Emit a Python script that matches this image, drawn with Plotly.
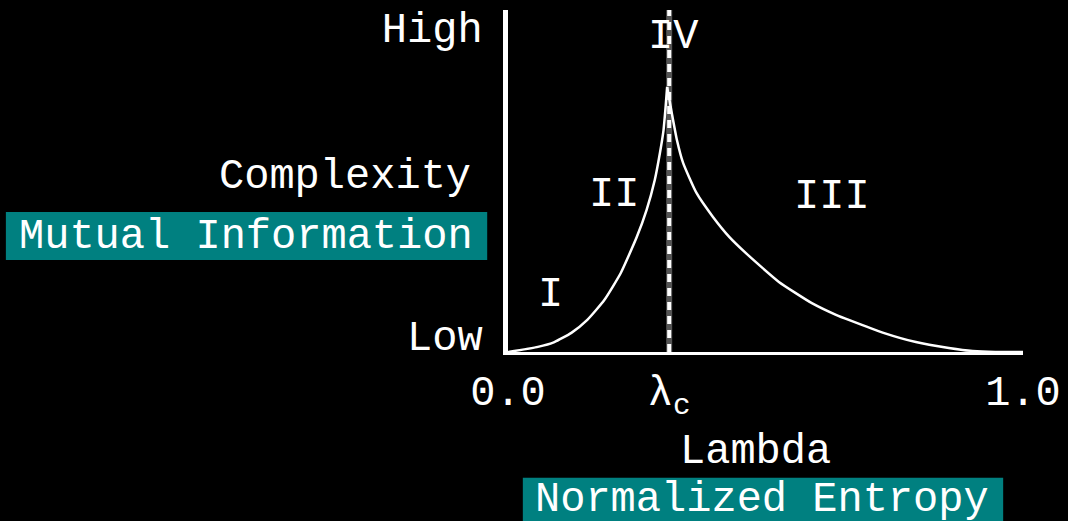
import plotly.graph_objects as go

# ---- data ----
left_x = [0.0, 0.058, 0.090, 0.123, 0.154, 0.187, 0.219, 0.250, 0.269, 0.285, 0.295, 0.302, 0.306, 0.309]
left_y = [0.0, 0.015, 0.029, 0.056, 0.094, 0.152, 0.231, 0.336, 0.415, 0.503, 0.582, 0.649, 0.716, 0.775]
right_x = [0.309, 0.318, 0.328, 0.340, 0.366, 0.398, 0.430, 0.462, 0.494, 0.526, 0.558, 0.590, 0.638,
           0.663, 0.729, 0.792, 0.856, 0.902, 0.946, 1.0]
right_y = [0.775, 0.699, 0.620, 0.553, 0.465, 0.395, 0.336, 0.289, 0.246, 0.205, 0.173, 0.143, 0.108,
           0.093, 0.056, 0.029, 0.012, 0.003, 0.0, 0.0]
lambda_c = 0.313

x_tick_vals = [0.0, lambda_c, 1.0]
x_tick_text = ["0.0", "λ<sub>c</sub>", "1.0"]
y_tick_vals = [0.05, 0.95]
y_tick_text = ["Low", "High"]

region_labels = ["I", "II", "III", "IV"]
region_x = [0.083, 0.206, 0.629, 0.321]
region_y = [0.167, 0.459, 0.453, 0.921]

FONT = "Courier New, Liberation Mono, monospace"
FS = 42
TEAL = "#008080"

fig = go.Figure()

# dashed critical line: dark edge + white dashes
fig.add_trace(go.Scatter(x=[lambda_c, lambda_c], y=[0, 1], mode="lines",
                         line=dict(color="#555555", width=6), hoverinfo="skip", showlegend=False))
fig.add_trace(go.Scatter(x=[lambda_c, lambda_c], y=[0, 1], mode="lines",
                         line=dict(color="white", width=4, dash="8px,6px"), hoverinfo="skip", showlegend=False))

fig.add_trace(go.Scatter(x=left_x, y=left_y, mode="lines",
                         line=dict(color="white", width=2.5, shape="spline", smoothing=0.5), showlegend=False))
fig.add_trace(go.Scatter(x=right_x, y=right_y, mode="lines",
                         line=dict(color="white", width=2.5, shape="spline", smoothing=0.5), showlegend=False))

for t, xx, yy in zip(region_labels, region_x, region_y):
    fig.add_annotation(x=xx, y=yy, xref="x", yref="y", text=t, showarrow=False,
                       xanchor="center", yanchor="middle",
                       font=dict(family=FONT, size=FS, color="white"))

# teal boxes
fig.add_shape(type="rect", xref="paper", yref="paper", x0=-0.975, x1=-0.0404, y0=0.269, y1=0.409,
              fillcolor=TEAL, line=dict(width=0), layer="below")
fig.add_shape(type="rect", xref="paper", yref="paper", x0=0.0288, x1=0.9615, y0=-0.52, y1=-0.368,
              fillcolor=TEAL, line=dict(width=0), layer="below")

fig.add_annotation(x=-0.067, y=0.512, xref="paper", yref="paper", text="Complexity", showarrow=False,
                   xanchor="right", yanchor="middle", font=dict(family=FONT, size=FS, color="white"))
fig.add_annotation(x=-0.508, y=0.336, xref="paper", yref="paper", text="Mutual Information", showarrow=False,
                   xanchor="center", yanchor="middle", font=dict(family=FONT, size=FS, color="white"))
fig.add_annotation(x=0.481, y=-0.292, xref="paper", yref="paper", text="Lambda", showarrow=False,
                   xanchor="center", yanchor="middle", font=dict(family=FONT, size=FS, color="white"))
fig.add_annotation(x=0.494, y=-0.433, xref="paper", yref="paper", text="Normalized Entropy", showarrow=False,
                   xanchor="center", yanchor="middle", font=dict(family=FONT, size=FS, color="white"))

fig.update_layout(
    width=1068, height=521, autosize=False,
    paper_bgcolor="black", plot_bgcolor="black",
    margin=dict(l=508, r=30, t=7, b=169),
    showlegend=False,
    xaxis=dict(range=[0, 1], showgrid=False, zeroline=False, showline=True, linecolor="white", linewidth=3,
               tickmode="array", tickvals=x_tick_vals, ticktext=x_tick_text,
               ticks="", fixedrange=True, ticklabeloverflow="allow",
               tickfont=dict(family=FONT, size=FS, color="white")),
    yaxis=dict(range=[0, 1], showgrid=False, zeroline=False, showline=True, linecolor="white", linewidth=5,
               tickmode="array", tickvals=y_tick_vals, ticktext=y_tick_text,
               ticks="outside", ticklen=12, tickcolor="black", fixedrange=True, ticklabeloverflow="allow",
               tickfont=dict(family=FONT, size=FS, color="white")),
)

fig.write_html("out.html", config={"displayModeBar": False, "responsive": False},
               post_script="document.body.style.margin='0';document.body.style.overflow='hidden';")
